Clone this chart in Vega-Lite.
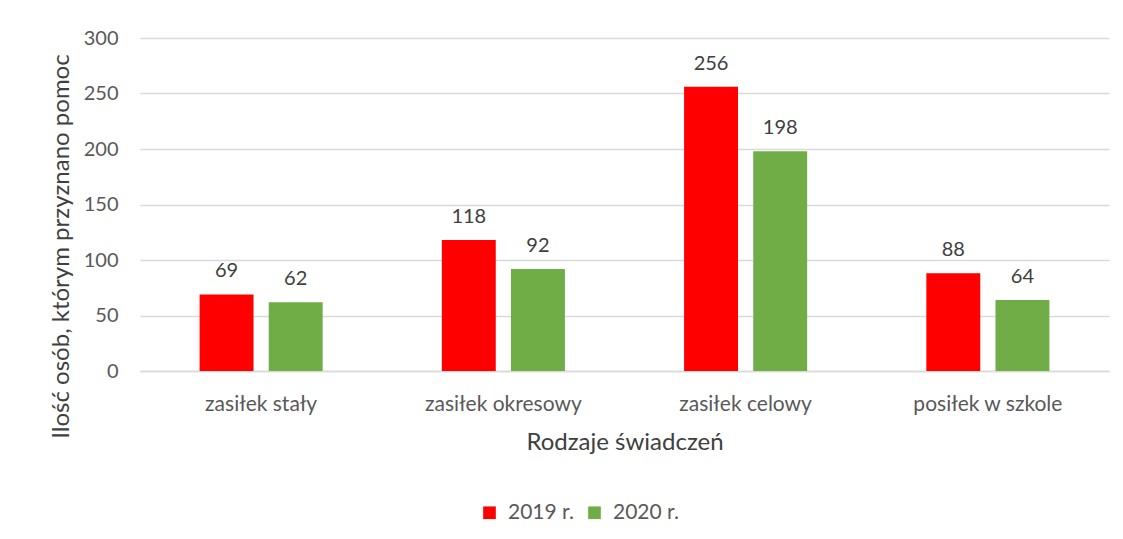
{
  "$schema": "https://vega.github.io/schema/vega-lite/v6.json",
  "width": 969,
  "height": 333,
  "autosize": {"type": "none"},
  "padding": {"left": 140, "top": 38, "right": 14, "bottom": 168},
  "background": "white",
  "config": {
    "view": {"stroke": null},
    "font": "Lato",
    "axis": {"labelFont": "Lato", "titleFont": "Lato", "labelColor": "#595959", "titleColor": "#404040", "titleFontWeight": "normal"},
    "legend": {"labelFont": "Lato"}
  },
  "data": {
    "values": [
      {"kategoria": "zasiłek stały", "rok": "2019 r.", "wartosc": 69},
      {"kategoria": "zasiłek stały", "rok": "2020 r.", "wartosc": 62},
      {"kategoria": "zasiłek okresowy", "rok": "2019 r.", "wartosc": 118},
      {"kategoria": "zasiłek okresowy", "rok": "2020 r.", "wartosc": 92},
      {"kategoria": "zasiłek celowy", "rok": "2019 r.", "wartosc": 256},
      {"kategoria": "zasiłek celowy", "rok": "2020 r.", "wartosc": 198},
      {"kategoria": "posiłek w szkole", "rok": "2019 r.", "wartosc": 88},
      {"kategoria": "posiłek w szkole", "rok": "2020 r.", "wartosc": 64}
    ]
  },
  "encoding": {
    "x": {
      "field": "kategoria",
      "type": "nominal",
      "sort": ["zasiłek stały", "zasiłek okresowy", "zasiłek celowy", "posiłek w szkole"],
      "scale": {"paddingInner": 0.492, "paddingOuter": 0.246},
      "axis": {
        "title": "Rodzaje świadczeń",
        "titleFontSize": 24,
        "titlePadding": 16,
        "labelFontSize": 21,
        "labelAngle": 0,
        "labelPadding": 22,
        "ticks": false,
        "domain": true,
        "domainColor": "#D9D9D9",
        "domainWidth": 1.5,
        "grid": false
      }
    },
    "xOffset": {
      "field": "rok",
      "type": "nominal",
      "scale": {"paddingInner": 0.22}
    },
    "y": {
      "field": "wartosc",
      "type": "quantitative",
      "scale": {"domain": [0, 300]},
      "axis": {
        "title": "Ilość osób, którym przyznano pomoc",
        "titleFontSize": 24,
        "titleAngle": -90,
        "titleX": -79,
        "titleY": 208,
        "titleAlign": "center",
        "titleBaseline": "middle",
        "labelFontSize": 20,
        "labelPadding": 22,
        "labelOverlap": false,
        "values": [0, 50, 100, 150, 200, 250, 300],
        "ticks": false,
        "domain": false,
        "grid": true,
        "gridColor": "#D9D9D9",
        "gridWidth": 1.5
      }
    }
  },
  "layer": [
    {
      "mark": {"type": "bar"},
      "encoding": {
        "color": {
          "field": "rok",
          "type": "nominal",
          "scale": {"domain": ["2019 r.", "2020 r."], "range": ["#FF0000", "#70AD47"]},
          "legend": {
            "title": null,
            "orient": "none",
            "direction": "horizontal",
            "legendX": 339,
            "legendY": 464,
            "symbolType": "square",
            "symbolSize": 160,
            "symbolStrokeWidth": 0,
            "labelFontSize": 21,
            "labelColor": "#595959",
            "columnPadding": 10,
            "labelOffset": 8
          }
        }
      }
    },
    {
      "mark": {"type": "text", "dy": -13, "baseline": "bottom", "fontSize": 20, "color": "#404040", "font": "Lato"},
      "encoding": {
        "text": {"field": "wartosc", "type": "quantitative"}
      }
    }
  ]
}
